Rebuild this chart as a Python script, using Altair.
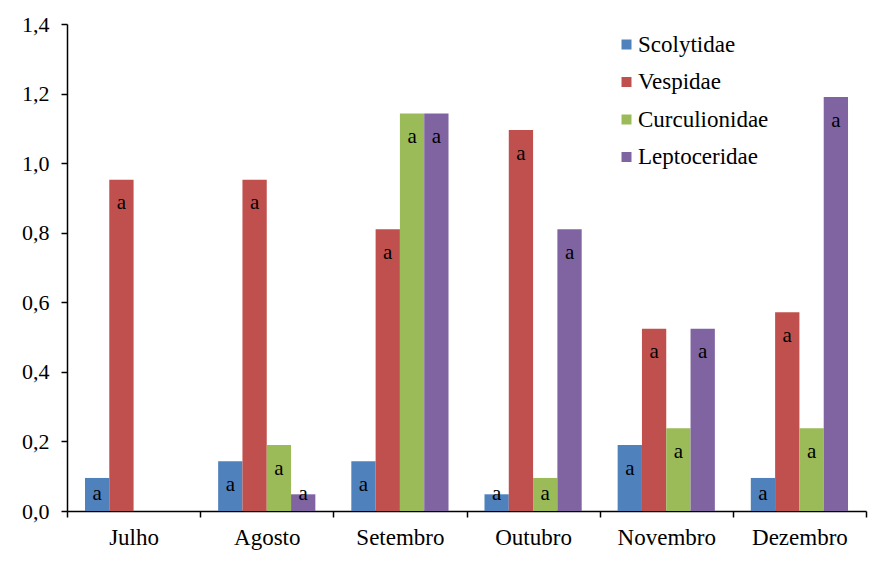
import altair as alt
import pandas as pd

months = ["Julho", "Agosto", "Setembro", "Outubro", "Novembro", "Dezembro"]
families = ["Scolytidae", "Vespidae", "Curculionidae", "Leptoceridae"]
colors = ["#4F81BD", "#C0504D", "#9BBB59", "#8064A2"]

scolytidae = [0.095, 0.143, 0.143, 0.048, 0.190, 0.095]
vespidae = [0.952, 0.952, 0.810, 1.095, 0.524, 0.571]
curculionidae = [0.0, 0.190, 1.143, 0.095, 0.238, 0.238]
leptoceridae = [0.0, 0.048, 1.143, 0.810, 0.524, 1.190]
letters = ["a", "a", "a", "a", "a", "a"]

series = [scolytidae, vespidae, curculionidae, leptoceridae]
rows = []
for fam, vals in zip(families, series):
    for m, v, l in zip(months, vals, letters):
        rows.append({"month": m, "family": fam, "value": v, "label": l if v > 0 else ""})
df = pd.DataFrame(rows)

FONT = "Liberation Serif, Times New Roman, serif"

x = alt.X(
    "month:N",
    sort=months,
    scale=alt.Scale(paddingInner=0, paddingOuter=0),
    axis=alt.Axis(
        title=None, labelAngle=0, tickBand="extent", tickSize=6, tickColor="black",
        domainColor="black", domainWidth=1.5, tickWidth=1.5, labelFontSize=23,
        labelFont=FONT, labelColor="black", labelPadding=9,
    ),
)
xo = alt.XOffset("family:N", sort=families, scale=alt.Scale(paddingInner=0, paddingOuter=0.74))

bars = alt.Chart(df).mark_bar().encode(
    x=x,
    xOffset=xo,
    y=alt.Y(
        "value:Q",
        scale=alt.Scale(domain=[0, 1.4], nice=False),
        axis=alt.Axis(
            title=None, values=[0, 0.2, 0.4, 0.6, 0.8, 1.0, 1.2, 1.4], grid=False,
            labelExpr="replace(format(datum.value, '.1f'), '.', ',')",
            tickSize=6, tickColor="black", domainColor="black", domainWidth=1.5,
            tickWidth=1.5, labelFontSize=22, labelFont=FONT, labelColor="black",
            labelPadding=12,
        ),
    ),
    color=alt.Color(
        "family:N",
        sort=families,
        scale=alt.Scale(domain=families, range=colors),
        legend=alt.Legend(
            title=None, orient="none", legendX=548, legendY=9, symbolType="square",
            symbolSize=100, symbolStrokeWidth=0, labelFontSize=23, labelFont=FONT,
            labelColor="black", rowPadding=13.5, labelOffset=0,
            labelExpr="datum.label == 'Leptoceridae' ? '\u00a0' + datum.label : datum.label",
        ),
    ),
)

text = alt.Chart(df).transform_filter("datum.value > 0").transform_calculate(
    ly="max(datum.value - 0.068, 0.05)"
).mark_text(baseline="middle", fontSize=21, font=FONT, color="black").encode(
    x=alt.X("month:N", sort=months),
    xOffset=alt.XOffset("family:N", sort=families),
    y=alt.Y("ly:Q"),
    text="label:N",
)

chart = alt.layer(bars, text).properties(
    width=799, height=487,
    padding={"left": 13, "top": 5, "right": 5, "bottom": 5},
    background="white",
).configure_view(stroke=None)

chart.save("out.html", embed_options={"renderer": "svg", "actions": False})
